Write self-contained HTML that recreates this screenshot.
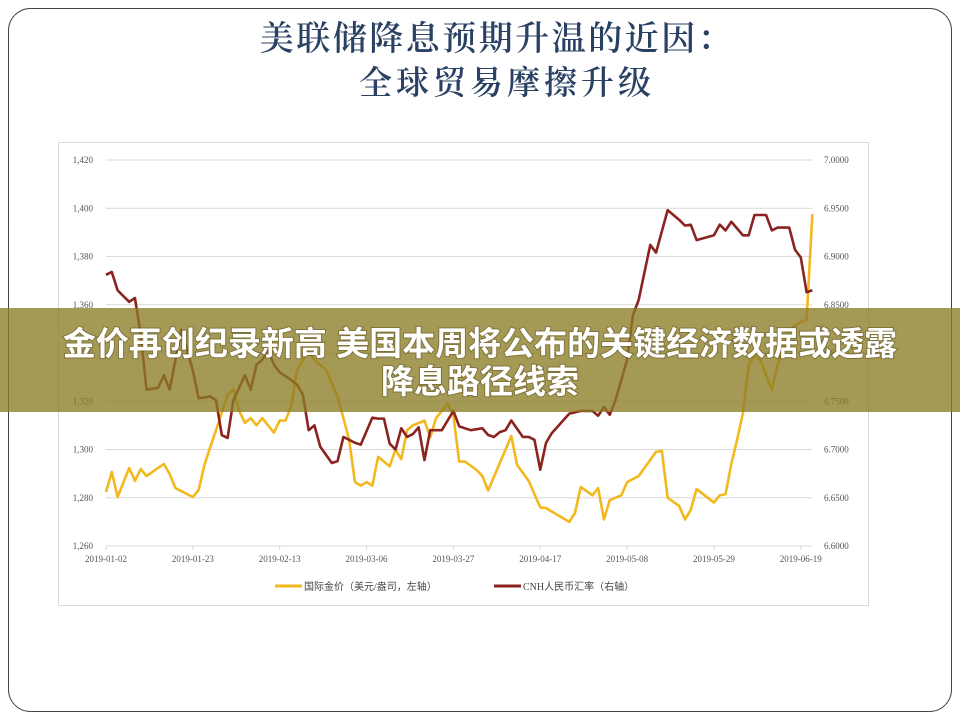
<!DOCTYPE html>
<html><head><meta charset="utf-8"><style>
body{margin:0;background:#fff;}
svg{display:block;}
</style></head><body>
<svg id="chart" width="960" height="720" xmlns="http://www.w3.org/2000/svg" font-family="Liberation Serif, Noto Serif CJK SC, serif">
<rect x="8.5" y="8.5" width="943" height="703" rx="22" fill="#fff" stroke="#444" stroke-width="1"/>
<text x="497" y="50" text-anchor="middle" font-size="34" letter-spacing="2.5" fill="#2A4163" font-weight="600" font-family="Liberation Serif, Noto Serif CJK SC, serif">美联储降息预期升温的近因：</text>
<text x="507" y="94" text-anchor="middle" font-size="33" letter-spacing="4" fill="#2A4163" font-weight="600" font-family="Liberation Serif, Noto Serif CJK SC, serif">全球贸易摩擦升级</text>
<rect x="58.5" y="142.5" width="810" height="463" fill="#fff" stroke="#d9d9d9"/>
<g id="grid"></g>
<g id="axes"></g>
<g id="series"></g>
<g font-size="10" fill="#444" font-family="Liberation Serif, Noto Sans CJK SC, sans-serif">
<line x1="275" y1="586" x2="302" y2="586" stroke="#F2B81E" stroke-width="3"/>
<text x="304" y="590">国际金价（美元/盎司，左轴）</text>
<line x1="494" y1="586" x2="521" y2="586" stroke="#8B2420" stroke-width="3"/>
<text x="523" y="590">CNH人民币汇率（右轴）</text>
</g>
<rect x="0" y="308" width="960" height="104" fill="rgb(140,124,38)" fill-opacity="0.78"/>
<g font-family="Liberation Sans, Noto Sans CJK SC, sans-serif" font-weight="bold" font-size="33" fill="#fff" text-anchor="middle" style="paint-order:stroke" stroke="rgba(60,50,10,0.35)" stroke-width="2">
<text x="480" y="355">金价再创纪录新高 美国本周将公布的关键经济数据或透露</text>
<text x="480" y="393">降息路径线索</text>
</g>
</svg>
<script>
const xTickLabels = ["2019-01-02","2019-01-23","2019-02-13","2019-03-06","2019-03-27","2019-04-17","2019-05-08","2019-05-29","2019-06-19"];
const xTickDays = [0,15,30,45,60,75,90,105,120];
const leftTicks = [1260,1280,1300,1320,1340,1360,1380,1400,1420];
const rightTicks = ["6.6000","6.6500","6.7000","6.7500","6.8000","6.8500","6.9000","6.9500","7.0000"];
const goldDay = [0,1,2,4,5,6,7,10,11,12,15,16,17,18,19,21,22,23,24,25,26,27,29,30,31,32,33,35,36,38,40,42,43,44,45,46,47,49,50,51,52,53,55,56,57,59,60,61,62,64,65,66,70,71,73,75,76,80,81,82,84,85,86,87,89,90,92,95,96,97,99,100,101,102,105,106,107,108,109,110,111,112,113,115,116,118,120,121,122];
const goldVal = [1282.4,1290.7,1280.3,1292.3,1287,1291.9,1289,1294,1289.8,1284,1280.3,1283.2,1293.6,1301,1308,1322.6,1325,1316,1311,1313,1310,1313,1307,1312,1312,1318,1333,1341,1337,1333,1322,1304,1286.5,1285,1286.5,1285,1297,1293,1300,1296,1308,1310,1312,1305,1313,1319,1314,1295,1295,1291.5,1289,1283,1305.6,1293.6,1287,1276,1275.7,1270,1273.7,1284.5,1281,1284,1271,1279,1281,1286.5,1289,1299,1299.4,1280,1276.6,1271,1275,1283.6,1278,1281,1281.5,1294,1304,1315,1335,1339,1337,1324.7,1335,1349.5,1353,1353.7,1397.6];
const cnhDay = [0,1,2,4,5,6,7,9,10,11,12,13,14,15,16,18,19,20,21,22,24,25,26,27,28,29,30,32,33,34,35,36,37,39,40,41,43,44,46,47,48,49,50,51,52,53,54,55,56,58,60,61,63,65,66,67,68,69,70,72,73,74,75,76,77,80,82,84,85,86,87,88,90,91,92,94,95,97,99,100,101,102,105,106,107,108,110,111,112,114,115,116,118,119,120,121,122];
const cnhVal = [6.881,6.884,6.865,6.853,6.857,6.819,6.762,6.764,6.777,6.762,6.793,6.824,6.803,6.782,6.753,6.755,6.751,6.715,6.712,6.751,6.777,6.762,6.788,6.793,6.803,6.788,6.780,6.772,6.767,6.757,6.720,6.725,6.703,6.686,6.688,6.713,6.707,6.705,6.733,6.732,6.732,6.706,6.700,6.722,6.713,6.716,6.723,6.689,6.720,6.720,6.740,6.724,6.720,6.722,6.715,6.713,6.718,6.720,6.730,6.713,6.713,6.710,6.679,6.707,6.717,6.737,6.740,6.740,6.735,6.744,6.736,6.751,6.793,6.839,6.855,6.912,6.904,6.948,6.938,6.932,6.933,6.917,6.922,6.933,6.927,6.936,6.922,6.922,6.943,6.943,6.927,6.930,6.930,6.907,6.899,6.863,6.865];

const NS="http://www.w3.org/2000/svg";
const X0=106, DX=5.79, YT=160, YB=546;
const xs = d => X0 + d*DX;
const yL = v => YB - (v-1260)/(160)*(YB-YT);
const yR = v => YB - (v-6.6)/(0.4)*(YB-YT);
function mk(tag, attrs, parent){const e=document.createElementNS(NS,tag);for(const k in attrs)e.setAttribute(k,attrs[k]);parent.appendChild(e);return e;}
const grid=document.getElementById('grid'), axes=document.getElementById('axes'), ser=document.getElementById('series');
leftTicks.forEach((t,i)=>{
  const y=yL(t);
  const g=mk('line',{x1:106,x2:812,y1:y,y2:y,stroke:'#d9d9d9','stroke-width':1},grid);
  
  
  const l=mk('text',{x:93,y:y+3,'text-anchor':'end','font-size':9,fill:'#555'},axes);
  l.textContent=t.toLocaleString('en-US');
  
  
  const r=mk('text',{x:824,y:y+3,'font-size':9,fill:'#555'},axes);
  r.textContent=rightTicks[i];
  
  
});
xTickDays.forEach((d,i)=>{
  const x=xs(d);
  const t=mk('line',{x1:x,x2:x,y1:YB,y2:YB+4,stroke:'#d9d9d9'},axes);
  
  
  const l=mk('text',{x:x,y:YB+16,'text-anchor':'middle','font-size':9,fill:'#555'},axes);
  l.textContent=xTickLabels[i];
  
  
});
const gp=mk('polyline',{points:goldDay.map((d,i)=>xs(d)+','+yL(goldVal[i])).join(' '),fill:'none',stroke:'#F2B81E','stroke-width':2.6,'stroke-linejoin':'round'},ser);


const cp=mk('polyline',{points:cnhDay.map((d,i)=>xs(d)+','+yR(cnhVal[i])).join(' '),fill:'none',stroke:'#8B2420','stroke-width':2.6,'stroke-linejoin':'round'},ser);


</script>
</body></html>
